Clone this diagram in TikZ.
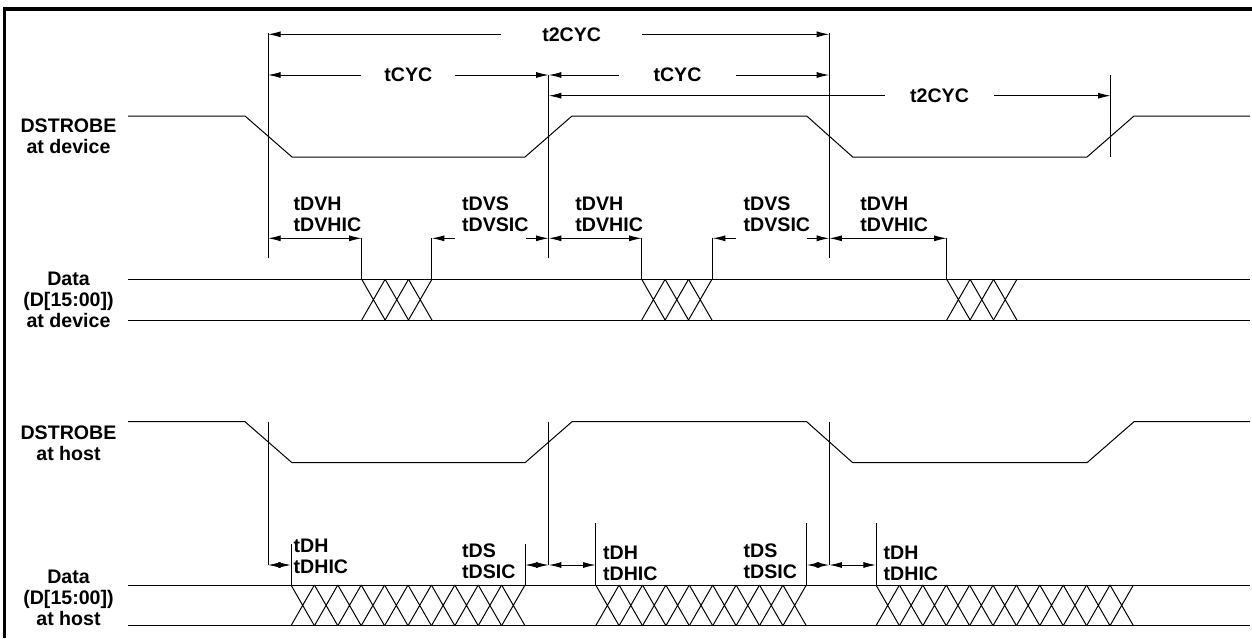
\documentclass[tikz,border=0pt]{standalone}
\usepackage{fontspec}
\setmainfont{Liberation Sans}
\usepackage{tikz}
\usetikzlibrary{arrows,arrows.meta,positioning,calc}

\tikzset{
  sig/.style={line width=0.5pt},
  dimr/.style={line width=0.5pt,-{Latex[length=6.3pt,width=3pt]}},
  dimlr/.style={line width=0.5pt,{Latex[length=6.3pt,width=3pt]}-{Latex[length=6.3pt,width=3pt]}},
  tlabel/.style={align=left,anchor=west,inner sep=0pt},
  gaplabel/.style={inner sep=0pt},
}
% crossing cells of a data bus: start x, number of cells, top y, bottom y
\newcommand{\xcells}[4]{%
  \foreach \i in {1,...,#2}{
    \draw[sig] ({#1+(\i-1)*23.4},#3) -- ({#1+\i*23.4},#4)
               ({#1+(\i-1)*23.4},#4) -- ({#1+\i*23.4},#3);
  }}

\begin{document}
\begin{tikzpicture}[x=0.5pt,y=-0.5pt]
        \tikzstyle{every node}=[font=\fontsize{9.8}{10.5}\selectfont\bfseries]
        \useasboundingbox (0,0) rectangle (1252,638);
        \draw[line width=1.85pt] (1252,9) -- (4.5,9) -- (4.5,638);

        %%% At device
        \begin{scope}
            \node[align=center] (strdev) at (68.5,136) {DSTROBE\\at device};
            \node[align=center] (datdev) at (68.5,299.5) {Data\\(D[15:00])\\at device};

            \coordinate (c1) at (268,33);
            \coordinate (c2) at (548.7,75);
            \coordinate (c3) at (829.3,33);
            \coordinate (c4) at (1110.7,75);

            \draw[sig] (128,116) -- (245,116) -- (292,157) -- (525,157) -- (572,116) -- (806.7,116)
                -- (852.7,157) -- (1087,157) -- (1134,116) -- (1250,116);
            \draw[sig] (128,279.3) -- (1250,279.3);
            \draw[sig] (128,320) -- (1250,320);
            \xcells{361.7}{3}{279.3}{320}
            \xcells{641.7}{3}{279.3}{320}
            \xcells{946.7}{3}{279.3}{320}

            \draw[sig] (c1) -- (c1 |- 0,258);
            \draw[sig] (c2) -- (c2 |- 0,258);
            \draw[sig] (c3) -- (c3 |- 0,258);
            \draw[sig] (c4) -- (c4 |- 0,157);

            \node[gaplabel,minimum width=70pt] (t2cyca) at (571.7,34.3) {t2CYC};
            \draw[dimr] (t2cyca.west) -- (c1 |- t2cyca.west);
            \draw[dimr] (t2cyca.east) -- (c3 |- t2cyca.east);
            \node[gaplabel,minimum width=46.7pt] (tcyca) at (408.3,75) {tCYC};
            \draw[dimr] (tcyca.west) -- (c1 |- tcyca.west);
            \draw[dimr] (tcyca.east) -- (c2 |- tcyca.east);
            \node[gaplabel,minimum width=58.5pt] (tcycb) at (677.5,75) {tCYC};
            \draw[dimr] (tcycb.west) -- (c2 |- tcycb.west);
            \draw[dimr] (tcycb.east) -- (c3 |- tcycb.east);
            \node[gaplabel,minimum width=54.5pt] (t2cycb) at (939.5,95.7) {t2CYC};
            \draw[dimr] (t2cycb.west) -- (c2 |- t2cycb.west);
            \draw[dimr] (t2cycb.east) -- (c4 |- t2cycb.east);

            % valid hold / setup
            \coordinate (dvha) at (361.7,238.3);
            \coordinate (dvsa) at (431.7,238.3);
            \coordinate (dvhb) at (641.7,238.3);
            \coordinate (dvsb) at (712.7,238.3);
            \coordinate (dvhc) at (946.7,238.3);

            \draw[dimlr] (c1 |- dvha) -- (dvha);
            \draw[sig] (dvha) -- (dvha |- 0,279.3);
            \node[tlabel] (ldvha) at (293.3,214.3) {tDVH\\tDVHIC};

            \draw[dimr] (455,238.3) -- (dvsa);
            \draw[dimr] (526,238.3) -- (c2 |- dvsa);
            \draw[sig] (dvsa) -- (dvsa |- 0,279.3);
            \node[tlabel] (ldvsa) at (461.7,214.3) {tDVS\\tDVSIC};

            \draw[dimlr] (c2 |- dvhb) -- (dvhb);
            \draw[sig] (dvhb) -- (dvhb |- 0,279.3);
            \node[tlabel] (ldvhb) at (575,214.3) {tDVH\\tDVHIC};

            \draw[dimr] (736,238.3) -- (dvsb);
            \draw[dimr] (806.7,238.3) -- (c3 |- dvsb);
            \draw[sig] (dvsb) -- (dvsb |- 0,279.3);
            \node[tlabel] (ldvsb) at (743.3,214.3) {tDVS\\tDVSIC};

            \draw[dimlr] (c3 |- dvhc) -- (dvhc);
            \draw[sig] (dvhc) -- (dvhc |- 0,279.3);
            \node[tlabel] (ldvhc) at (860,214.3) {tDVH\\tDVHIC};
        \end{scope}

        %%% At host
        \begin{scope}[shift={(0,305.7)}]
            \node[align=center] (strhost) at (68.5,137.3) {DSTROBE\\at host};
            \node[align=center] (dathost) at (68.5,291.8) {Data\\(D[15:00])\\at host};

            \coordinate (h1) at (268,116);
            \coordinate (h2) at (548.7,116);
            \coordinate (h3) at (829.3,116);

            \draw[sig] (128,116) -- (245,116) -- (292,157) -- (525,157) -- (572,116) -- (806.7,116)
                -- (852.7,157) -- (1087,157) -- (1134,116) -- (1250,116);
            \draw[sig] (128,279.3) -- (1250,279.3);
            \draw[sig] (128,320) -- (1250,320);
            \xcells{291}{10}{279.3}{320}
            \xcells{595.7}{9}{279.3}{320}
            \xcells{876}{11}{279.3}{320}

            \draw[sig] (h1) -- (h1 |- 0,259.3);
            \draw[sig] (h2) -- (h2 |- 0,259.3);
            \draw[sig] (h3) -- (h3 |- 0,259.3);

            % hold / setup
            \coordinate (dha) at (291,259.3);
            \coordinate (dsa) at (525,259.3);
            \coordinate (dhb) at (595.7,259.3);
            \coordinate (dsb) at (806.7,259.3);
            \coordinate (dhc) at (876,259.3);

            \draw[dimlr] (h1 |- dha) -- (dha);
            \draw[sig] (dha |- 0,238.3) -- (dha |- 0,279.3);
            \node[tlabel] (ldha) at (293.3,250.5) {tDH\\tDHIC};

            \draw[dimlr] (dsa) -- (h2 |- dsa);
            \draw[sig] (dsa |- 0,238.3) -- (dsa |- 0,279.3);
            \node[tlabel] (ldsa) at (461.7,256) {tDS\\tDSIC};

            \draw[dimlr] (h2 |- dhb) -- (dhb);
            \draw[sig] (dhb |- 0,217.6) -- (dhb |- 0,279.3);
            \node[tlabel] (ldhb) at (602.7,257.8) {tDH\\tDHIC};

            \draw[dimlr] (dsb) -- (h3 |- dsb);
            \draw[sig] (dsb |- 0,217.6) -- (dsb |- 0,279.3);
            \node[tlabel] (ldsb) at (743.3,256) {tDS\\tDSIC};

            \draw[dimlr] (h3 |- dhc) -- (dhc);
            \draw[sig] (dhc |- 0,217.6) -- (dhc |- 0,279.3);
            \node[tlabel] (ldhc) at (883.3,258) {tDH\\tDHIC};
        \end{scope}
\end{tikzpicture}
\end{document}
